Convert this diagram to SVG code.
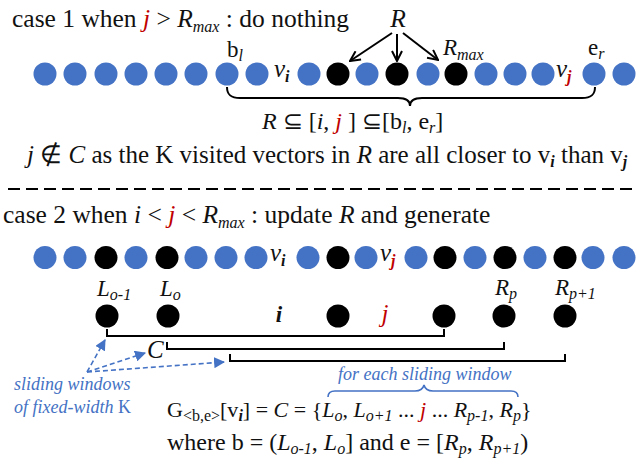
<svg xmlns="http://www.w3.org/2000/svg" width="638" height="462" viewBox="0 0 638 462">
<style>
text{font-family:"Liberation Serif",serif;fill:#111}
.t{font-size:25.5px}
.it{font-style:italic}
.b{font-weight:bold}
.red{fill:#c00000}
.blu{fill:#4472c4}
.sub{font-size:16px}
.cb{fill:#4472c4}
.ck{fill:#000}
.br{fill:none;stroke:#000;stroke-width:2}
</style>
<defs>
<marker id="open" viewBox="0 0 12 12" refX="11" refY="6" markerWidth="12" markerHeight="12" markerUnits="userSpaceOnUse" orient="auto">
<path d="M1,1 L11,6 L1,11" fill="none" stroke="#000" stroke-width="2"/>
</marker>
<marker id="bl" viewBox="0 0 10 10" refX="9" refY="5" markerWidth="11" markerHeight="11" markerUnits="userSpaceOnUse" orient="auto">
<path d="M0,0 L10,5 L0,10 z" fill="#4472c4"/>
</marker>
</defs>

<!-- case 1 -->
<g id="title1">
<text class="t" x="12" y="27">case 1 when <tspan class="it red">j</tspan> &gt; <tspan class="it">R</tspan><tspan class="it sub" dy="5">max</tspan><tspan dy="-5"> : do nothing</tspan></text>
</g>
<g id="labelR"><text class="t it" x="398" y="27" text-anchor="middle">R</text></g>
<g id="labelRmax"><text class="it" x="443" y="55" font-size="23">R<tspan class="sub" dy="5">max</tspan></text></g>
<g id="labelbl"><text x="227" y="57" font-size="23">b<tspan class="it sub" dy="4">l</tspan></text></g>
<g id="labeler"><text x="588" y="55" font-size="23">e<tspan class="it sub" dy="4">r</tspan></text></g>
<g id="labelvi1"><text class="it" x="274" y="77" font-size="25">v<tspan class="b sub" dy="5">i</tspan></text></g>
<g id="labelvj1"><text class="it" x="556" y="77" font-size="25">v<tspan class="b sub red" dy="5">j</tspan></text></g>

<g id="row1">
<circle class="cb" cx="45" cy="74" r="11.5"/><circle class="cb" cx="75" cy="74" r="11.5"/><circle class="cb" cx="106" cy="74" r="11.5"/><circle class="cb" cx="136" cy="74" r="11.5"/><circle class="cb" cx="166" cy="74" r="11.5"/><circle class="cb" cx="196" cy="74" r="11.5"/><circle class="cb" cx="227" cy="74" r="11.5"/><circle class="cb" cx="257" cy="74" r="11.5"/><circle class="cb" cx="309" cy="74" r="11.5"/><circle class="ck" cx="338" cy="74" r="11.5"/><circle class="cb" cx="367" cy="74" r="11.5"/><circle class="ck" cx="397" cy="74" r="11.5"/><circle class="cb" cx="428" cy="74" r="11.5"/><circle class="ck" cx="456" cy="74" r="11.5"/><circle class="cb" cx="486" cy="74" r="11.5"/><circle class="cb" cx="515" cy="74" r="11.5"/><circle class="cb" cx="543" cy="74" r="11.5"/><circle class="cb" cx="594" cy="74" r="11.5"/><circle class="cb" cx="624" cy="74" r="11.5"/>
</g>

<g id="formula1"><text x="262" y="129" font-size="24"><tspan class="it">R</tspan> ⊆ [<tspan class="it">i</tspan>, <tspan class="it red">j</tspan> ] ⊆[b<tspan class="it sub" dy="4">l</tspan><tspan dy="-4">, e</tspan><tspan class="it sub" dy="4">r</tspan><tspan dy="-4">]</tspan></text></g>
<g id="note1"><text x="27" y="163" font-size="25"><tspan class="it">j</tspan> ∉ <tspan class="it">C</tspan> as the K visited vectors in <tspan class="it">R</tspan> are all closer to v<tspan class="it b sub" dy="4">i</tspan><tspan dy="-4"> than v</tspan><tspan class="it b sub" dy="4">j</tspan></text></g>

<line x1="8" y1="189" x2="632" y2="189" stroke="#000" stroke-width="2" stroke-dasharray="12 6"/>

<!-- case 2 -->
<g id="title2"><text class="t" x="3" y="223">case 2 when <tspan class="it">i</tspan> &lt; <tspan class="it red">j</tspan> &lt; <tspan class="it">R</tspan><tspan class="it sub" dy="5">max</tspan><tspan dy="-5"> : update </tspan><tspan class="it">R</tspan> and generate</text></g>

<g id="row2">
<circle class="cb" cx="45" cy="257.5" r="11.5"/><circle class="cb" cx="75" cy="257.5" r="11.5"/><circle class="ck" cx="106" cy="257.5" r="11.5"/><circle class="cb" cx="136" cy="257.5" r="11.5"/><circle class="ck" cx="167" cy="257.5" r="11.5"/><circle class="cb" cx="196" cy="257.5" r="11.5"/><circle class="cb" cx="226" cy="257.5" r="11.5"/><circle class="cb" cx="256" cy="257.5" r="11.5"/><circle class="cb" cx="308" cy="257.5" r="11.5"/><circle class="ck" cx="338" cy="257.5" r="11.5"/><circle class="cb" cx="366" cy="257.5" r="11.5"/><circle class="cb" cx="416" cy="257.5" r="11.5"/><circle class="ck" cx="445" cy="257.5" r="11.5"/><circle class="cb" cx="475" cy="257.5" r="11.5"/><circle class="ck" cx="505" cy="257.5" r="11.5"/><circle class="cb" cx="535" cy="257.5" r="11.5"/><circle class="ck" cx="565" cy="257.5" r="11.5"/><circle class="cb" cx="593" cy="257.5" r="11.5"/><circle class="cb" cx="624" cy="257.5" r="11.5"/>
</g>
<g id="labelvi2"><text class="it" x="270" y="261" font-size="25">v<tspan class="b sub" dy="5">i</tspan></text></g>
<g id="labelvj2"><text class="it" x="380" y="261" font-size="25">v<tspan class="b sub red" dy="5">j</tspan></text></g>

<g id="row3">
<circle class="ck" cx="107" cy="316" r="11.5"/><circle class="ck" cx="168" cy="316" r="11.5"/><circle class="ck" cx="338" cy="316" r="11.5"/><circle class="ck" cx="444" cy="316" r="11.5"/><circle class="ck" cx="504" cy="316" r="11.5"/><circle class="ck" cx="565" cy="316" r="11.5"/>
</g>
<g id="labelsL">
<text class="it" x="97" y="296" font-size="23">L<tspan class="sub" dy="4">o-1</tspan></text>
<text class="it" x="160" y="296" font-size="23">L<tspan class="sub" dy="4">o</tspan></text>
<text class="it" x="495" y="295" font-size="23">R<tspan class="sub" dy="4">p</tspan></text>
<text class="it" x="555" y="295" font-size="23">R<tspan class="sub" dy="4">p+1</tspan></text>
<text class="it b" x="279" y="322" font-size="23" text-anchor="middle">i</text>
<text class="it red" x="385" y="322" font-size="25" text-anchor="middle">j</text>
<text class="it" x="147" y="358" font-size="25">C</text>
</g>

<g id="connectors">
<path class="br" d="M107,329 V336 H444 V329"/>
<path class="br" d="M167,342 V349 H504 V342"/>
<path class="br" d="M230,354 V361 H565 V354"/>
<line x1="392" y1="33" x2="350" y2="61" stroke="#000" stroke-width="2" marker-end="url(#open)"/>
<line x1="397" y1="34" x2="397" y2="61" stroke="#000" stroke-width="2" marker-end="url(#open)"/>
<line x1="403" y1="33" x2="438" y2="60" stroke="#000" stroke-width="2" marker-end="url(#open)"/>
<g stroke="#4472c4" stroke-width="1.6" stroke-dasharray="5 3" fill="none">
<line x1="87" y1="372" x2="105" y2="340" marker-end="url(#bl)"/>
<line x1="87" y1="372" x2="145" y2="353" marker-end="url(#bl)"/>
<line x1="87" y1="372" x2="224" y2="362" marker-end="url(#bl)"/>
</g>
<path class="br" d="M227,87 C227,95 231,98 240,98 H398 C405,98 410,100 410,106 C410,100 415,98 422,98 H582 C591,98 595,95 595,87"/>
<path fill="none" stroke="#4472c4" stroke-width="1.6" d="M328,397 C328,393 330,391 335,391 H415 C420,391 423,389 424,385 C425,389 428,391 433,391 H511 C516,391 518,393 518,397"/>
</g>

<g id="bluetext">
<text class="it blu" x="14" y="390" font-size="18">sliding windows</text>
<text class="blu" x="14" y="413" font-size="18"><tspan class="it">of fixed-width</tspan> K</text>
<text class="it blu" x="338" y="380" font-size="18">for each sliding window</text>
</g>

<g id="formula2">
<text x="167" y="417" font-size="22">G<tspan class="sub" dy="4">&lt;b,e&gt;</tspan><tspan dy="-4">[v</tspan><tspan class="it b sub" dy="4">i</tspan><tspan dy="-4">] = </tspan><tspan class="it">C</tspan> = {<tspan class="it">L</tspan><tspan class="it sub" dy="4">o</tspan><tspan dy="-4">, </tspan><tspan class="it">L</tspan><tspan class="it sub" dy="4">o+1</tspan><tspan dy="-4"> ... </tspan><tspan class="it red">j</tspan> ... <tspan class="it">R</tspan><tspan class="it sub" dy="4">p-1</tspan><tspan dy="-4">, </tspan><tspan class="it">R</tspan><tspan class="it sub" dy="4">p</tspan><tspan dy="-4">}</tspan></text>
<text x="167" y="450" font-size="24">where b = (<tspan class="it">L</tspan><tspan class="it sub" dy="4">o-1</tspan><tspan dy="-4">, </tspan><tspan class="it">L</tspan><tspan class="it sub" dy="4">o</tspan><tspan dy="-4">] and e = [</tspan><tspan class="it">R</tspan><tspan class="it sub" dy="4">p</tspan><tspan dy="-4">, </tspan><tspan class="it">R</tspan><tspan class="it sub" dy="4">p+1</tspan><tspan dy="-4">)</tspan></text>
</g>
</svg>
